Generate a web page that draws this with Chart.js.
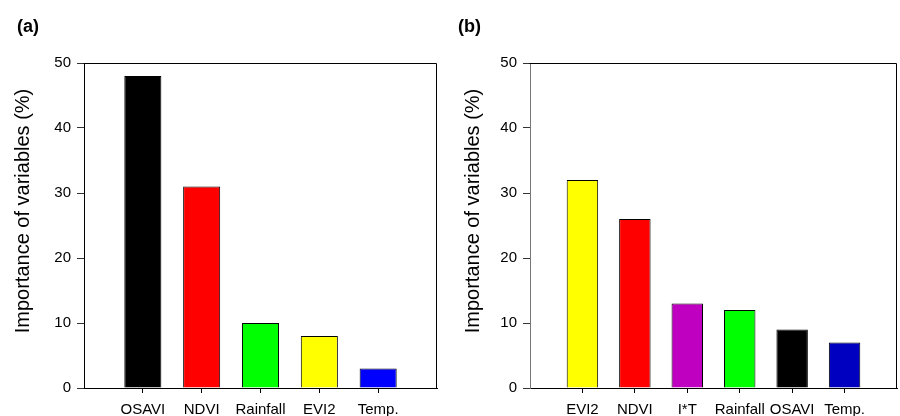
<!DOCTYPE html>
<html>
<head>
<meta charset="utf-8">
<script src="https://cdn.jsdelivr.net/npm/chart.js@4/dist/chart.umd.min.js"></script>
<style>
  body { margin: 0; background: #fff; }
  .panel { position: absolute; top: 0; width: 450px; height: 416px; }
</style>
</head>
<body>
<div class="panel" style="left:0"><canvas id="chartA" width="450" height="416"></canvas></div>
<div class="panel" style="left:450px"><canvas id="chartB" width="450" height="416"></canvas></div>
<script>
// Panel (a)
const namesA = ['OSAVI', 'NDVI', 'Rainfall', 'EVI2', 'Temp.'];
const valuesA = [48, 31, 10, 8, 3];
const colorsA = ['#000000', '#ff0000', '#00ff00', '#ffff00', '#0000ff'];

// Panel (b)
const namesB = ['EVI2', 'NDVI', 'I*T', 'Rainfall', 'OSAVI', 'Temp.'];
const valuesB = [32, 26, 13, 12, 9, 7];
const colorsB = ['#ffff00', '#ff0000', '#c000c0', '#00ff00', '#000000', '#0000c0'];

const yTicks = [0, 10, 20, 30, 40, 50];
const yTitle = 'Importance of variables (%)';
const FONT = "'Liberation Sans', Arial, sans-serif";

// draws the box top/right edges, the panel letter and the y title
const decorPlugin = {
    id: 'decor',
    afterDraw(chart, args, opts) {
        const ctx = chart.ctx;
        const a = chart.chartArea;
        ctx.save();
        ctx.strokeStyle = '#000';
        ctx.lineWidth = 1;
        ctx.beginPath();
        ctx.moveTo(Math.round(a.left) - 0.5, Math.round(a.top) + 0.5);
        ctx.lineTo(Math.round(a.right) - 0.5, Math.round(a.top) + 0.5);
        ctx.lineTo(Math.round(a.right) - 0.5, Math.round(a.bottom));
        ctx.stroke();

        ctx.fillStyle = '#000';
        ctx.font = 'bold 18px ' + FONT;
        ctx.textBaseline = 'alphabetic';
        ctx.textAlign = 'left';
        ctx.fillText(opts.label, opts.labelX, 32);

        ctx.font = '20px ' + FONT;
        ctx.translate(opts.titleX, 211);
        ctx.rotate(-Math.PI / 2);
        ctx.textAlign = 'center';
        ctx.textBaseline = 'middle';
        ctx.fillText(yTitle, 0, 0);
        ctx.restore();
    }
};

function makeChart(id, names, values, colors, cfg) {
    const ctx = document.getElementById(id).getContext('2d');
    return new Chart(ctx, {
        type: 'bar',
        data: {
            datasets: [{
                data: values.map((v, i) => ({ x: i + 1, y: v })),
                backgroundColor: colors,
                borderColor: '#000',
                borderWidth: 1,
                categoryPercentage: 1,
                barPercentage: cfg.barPct
            }]
        },
        options: {
            responsive: false,
            animation: false,
            layout: { padding: { top: 63, right: cfg.padRight, left: 0, bottom: 0 } },
            plugins: {
                legend: { display: false },
                tooltip: { enabled: false },
                decor: { label: cfg.label, labelX: cfg.labelX, titleX: 23 }
            },
            scales: {
                x: {
                    type: 'linear',
                    offset: false,
                    min: 0,
                    max: names.length + 1,
                    afterBuildTicks: scale => { scale.ticks = names.map((n, i) => ({ value: i + 1 })); },
                    afterFit: scale => { scale.height = 28; },
                    ticks: {
                        autoSkip: false,
                        maxRotation: 0,
                        padding: 8,
                        color: '#000',
                        font: { family: FONT, size: 15 },
                        callback: v => names[v - 1]
                    },
                    grid: { offset: false, drawOnChartArea: false, tickLength: 5, color: '#000' },
                    border: { color: '#000' }
                },
                y: {
                    min: 0,
                    max: 50,
                    afterBuildTicks: scale => { scale.ticks = yTicks.map(v => ({ value: v })); },
                    afterFit: scale => { scale.width = cfg.yWidth; },
                    ticks: {
                        padding: 6,
                        color: '#000',
                        font: { family: FONT, size: 15 }
                    },
                    grid: { drawOnChartArea: false, tickLength: 7, color: '#333' },
                    border: { color: cfg.yAxisColor }
                }
            }
        },
        plugins: [decorPlugin]
    });
}

makeChart('chartA', namesA, valuesA, colorsA,
    { barPct: 0.63, padRight: 13, yWidth: 84, label: '(a)', labelX: 17, yAxisColor: '#000' });
makeChart('chartB', namesB, valuesB, colorsB,
    { barPct: 0.6, padRight: 3, yWidth: 80, label: '(b)', labelX: 8, yAxisColor: '#777' });
</script>
</body>
</html>
